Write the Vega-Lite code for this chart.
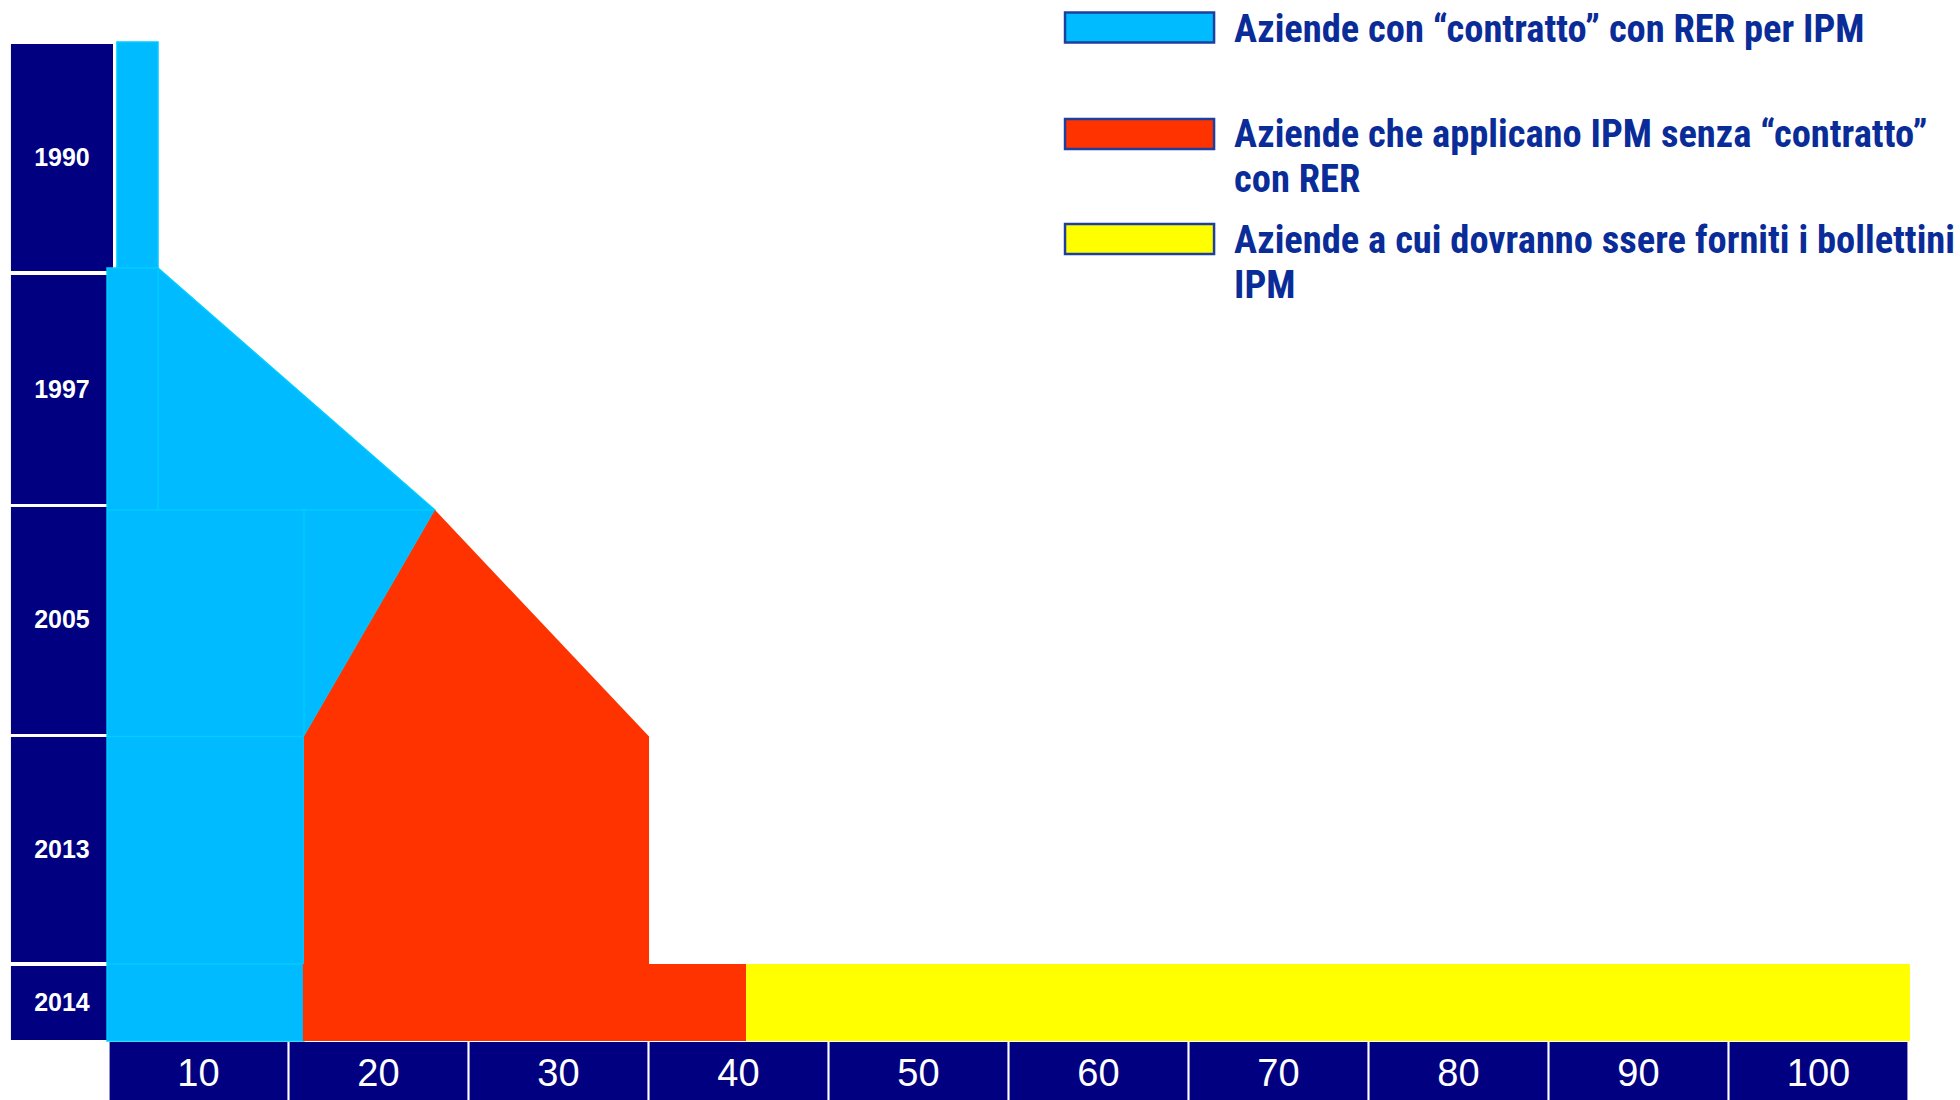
{
  "$schema": "https://vega.github.io/schema/vega-lite/v6.json",
  "width": 1960,
  "height": 1100,
  "autosize": {"type": "fit", "contains": "padding"},
  "padding": 0,
  "background": "white",
  "config": {"view": {"stroke": null}},
  "datasets": {
    "years": [
      {"year": "1990", "pct_from": -5.42, "pct_to": 0.25, "row_from": 0.009, "row_to": 0.996, "row_mid": 0.503},
      {"year": "1997", "pct_from": -5.42, "pct_to": 0.25, "row_from": 1.013, "row_to": 2.009, "row_mid": 1.511},
      {"year": "2005", "pct_from": -5.42, "pct_to": 0.25, "row_from": 2.022, "row_to": 3.009, "row_mid": 2.515},
      {"year": "2013", "pct_from": -5.42, "pct_to": 0.25, "row_from": 3.022, "row_to": 4.0, "row_mid": 3.511},
      {"year": "2014", "pct_from": -5.42, "pct_to": 0.25, "row_from": 4.017, "row_to": 4.339, "row_mid": 4.178}
    ],
    "ticks": [
      {"label": "10", "pct_from": 0.06, "pct_to": 9.94, "pct_mid": 5, "row_from": 4.348, "row_to": 4.6, "row_mid": 4.491},
      {"label": "20", "pct_from": 10.06, "pct_to": 19.94, "pct_mid": 15, "row_from": 4.348, "row_to": 4.6, "row_mid": 4.491},
      {"label": "30", "pct_from": 20.06, "pct_to": 29.94, "pct_mid": 25, "row_from": 4.348, "row_to": 4.6, "row_mid": 4.491},
      {"label": "40", "pct_from": 30.06, "pct_to": 39.94, "pct_mid": 35, "row_from": 4.348, "row_to": 4.6, "row_mid": 4.491},
      {"label": "50", "pct_from": 40.06, "pct_to": 49.94, "pct_mid": 45, "row_from": 4.348, "row_to": 4.6, "row_mid": 4.491},
      {"label": "60", "pct_from": 50.06, "pct_to": 59.94, "pct_mid": 55, "row_from": 4.348, "row_to": 4.6, "row_mid": 4.491},
      {"label": "70", "pct_from": 60.06, "pct_to": 69.94, "pct_mid": 65, "row_from": 4.348, "row_to": 4.6, "row_mid": 4.491},
      {"label": "80", "pct_from": 70.06, "pct_to": 79.94, "pct_mid": 75, "row_from": 4.348, "row_to": 4.6, "row_mid": 4.491},
      {"label": "90", "pct_from": 80.06, "pct_to": 89.94, "pct_mid": 85, "row_from": 4.348, "row_to": 4.6, "row_mid": 4.491},
      {"label": "100", "pct_from": 90.06, "pct_to": 99.94, "pct_mid": 95, "row_from": 4.348, "row_to": 4.6, "row_mid": 4.491}
    ],
    "cyanColumn": [
      {"pct_from": 0.47, "pct_to": 2.75, "row_from": 0.0, "row_to": 0.983}
    ],
    "cyanArea": [
      {"row": 0.983, "pct": 2.75, "pct_base": -0.08},
      {"row": 2.035, "pct": 18.14, "pct_base": -0.08},
      {"row": 3.02, "pct": 10.86, "pct_base": -0.08},
      {"row": 4.343, "pct": 10.86, "pct_base": -0.08}
    ],
    "cyanLines": [
      {"pct1": 2.75, "row1": 0.983, "pct2": 2.75, "row2": 2.035},
      {"pct1": -0.08, "row1": 2.035, "pct2": 18.14, "row2": 2.035},
      {"pct1": 10.86, "row1": 2.035, "pct2": 10.86, "row2": 3.02},
      {"pct1": -0.08, "row1": 3.02, "pct2": 10.86, "row2": 3.02},
      {"pct1": -0.08, "row1": 4.009, "pct2": 10.86, "row2": 4.009}
    ],
    "redArea": [
      {"row": 2.035, "pct_left": 18.14, "pct_right": 18.14},
      {"row": 3.02, "pct_left": 10.86, "pct_right": 30.03},
      {"row": 4.012, "pct_left": 10.86, "pct_right": 30.03}
    ],
    "redBar": [
      {"pct_from": 10.8, "pct_to": 35.42, "row_from": 4.009, "row_to": 4.343}
    ],
    "yellowBar": [
      {"pct_from": 35.42, "pct_to": 100.08, "row_from": 4.009, "row_to": 4.343}
    ],
    "legendBoxes": [
      {"category": "contratto", "pct_from": 53.14, "pct_to": 61.42, "row_from": -0.128, "row_to": 0.002},
      {"category": "senza", "pct_from": 53.14, "pct_to": 61.42, "row_from": 0.335, "row_to": 0.465},
      {"category": "bollettini", "pct_from": 53.14, "pct_to": 61.42, "row_from": 0.791, "row_to": 0.922}
    ],
    "legendText": [
      {"text": "Aziende con “contratto” con RER per IPM", "pct": 62.53, "row": -0.052},
      {"text": "Aziende che applicano IPM senza “contratto”", "pct": 62.53, "row": 0.404},
      {"text": "con RER", "pct": 62.53, "row": 0.6},
      {"text": "Aziende a cui dovranno ssere forniti i bollettini", "pct": 62.53, "row": 0.865},
      {"text": "IPM", "pct": 62.53, "row": 1.061}
    ]
  },
  "layer": [
    {
      "data": {"name": "years"},
      "mark": {"type": "rect", "color": "#000080"},
      "encoding": {
        "x": {"field": "pct_from", "type": "quantitative", "scale": {"domain": [-6.028, 102.861], "nice": false, "zero": false}, "axis": null},
        "x2": {"field": "pct_to"},
        "y": {"field": "row_from", "type": "quantitative", "scale": {"domain": [-0.1826, 4.6], "nice": false, "zero": false, "reverse": true}, "axis": null},
        "y2": {"field": "row_to"}
      }
    },
    {
      "data": {"name": "years"},
      "mark": {"type": "text", "color": "white", "font": "Liberation Sans", "fontWeight": "bold", "fontSize": 25, "align": "center", "baseline": "middle"},
      "encoding": {
        "x": {"field": "pct_from", "type": "quantitative", "scale": {"domain": [-6.028, 102.861], "nice": false, "zero": false}, "axis": null},
        "y": {"field": "row_mid", "type": "quantitative", "scale": {"domain": [-0.1826, 4.6], "nice": false, "zero": false, "reverse": true}, "axis": null},
        "xOffset": {"value": 51},
        "text": {"field": "year"}
      }
    },
    {
      "data": {"name": "ticks"},
      "mark": {"type": "rect", "color": "#000080", "clip": true},
      "encoding": {
        "x": {"field": "pct_from", "type": "quantitative", "scale": {"domain": [-6.028, 102.861], "nice": false, "zero": false}, "axis": null},
        "x2": {"field": "pct_to"},
        "y": {"field": "row_from", "type": "quantitative", "scale": {"domain": [-0.1826, 4.6], "nice": false, "zero": false, "reverse": true}, "axis": null},
        "y2": {"field": "row_to"}
      }
    },
    {
      "data": {"name": "ticks"},
      "mark": {"type": "text", "color": "white", "font": "Liberation Sans Narrow, Liberation Sans", "fontSize": 38, "align": "center", "baseline": "middle"},
      "encoding": {
        "x": {"field": "pct_mid", "type": "quantitative", "scale": {"domain": [-6.028, 102.861], "nice": false, "zero": false}, "axis": null},
        "y": {"field": "row_mid", "type": "quantitative", "scale": {"domain": [-0.1826, 4.6], "nice": false, "zero": false, "reverse": true}, "axis": null},
        "text": {"field": "label"}
      }
    },
    {
      "data": {"name": "cyanColumn"},
      "mark": {"type": "rect", "color": "#00BBFF", "stroke": "#00CCFF", "strokeWidth": 1.5},
      "encoding": {
        "x": {"field": "pct_from", "type": "quantitative", "scale": {"domain": [-6.028, 102.861], "nice": false, "zero": false}, "axis": null},
        "x2": {"field": "pct_to"},
        "y": {"field": "row_from", "type": "quantitative", "scale": {"domain": [-0.1826, 4.6], "nice": false, "zero": false, "reverse": true}, "axis": null},
        "y2": {"field": "row_to"}
      }
    },
    {
      "data": {"name": "cyanArea"},
      "mark": {"type": "area", "orient": "horizontal", "color": "#00BBFF", "stroke": "#00CCFF", "strokeWidth": 1.5},
      "encoding": {
        "y": {"field": "row", "type": "quantitative", "scale": {"domain": [-0.1826, 4.6], "nice": false, "zero": false, "reverse": true}, "axis": null},
        "x": {"field": "pct", "type": "quantitative", "scale": {"domain": [-6.028, 102.861], "nice": false, "zero": false}, "axis": null},
        "x2": {"field": "pct_base"}
      }
    },
    {
      "data": {"name": "cyanLines"},
      "mark": {"type": "rule", "color": "#00CCFF", "strokeWidth": 1.5},
      "encoding": {
        "x": {"field": "pct1", "type": "quantitative", "scale": {"domain": [-6.028, 102.861], "nice": false, "zero": false}, "axis": null},
        "x2": {"field": "pct2"},
        "y": {"field": "row1", "type": "quantitative", "scale": {"domain": [-0.1826, 4.6], "nice": false, "zero": false, "reverse": true}, "axis": null},
        "y2": {"field": "row2"}
      }
    },
    {
      "data": {"name": "redArea"},
      "mark": {"type": "area", "orient": "horizontal", "color": "#FF3300"},
      "encoding": {
        "y": {"field": "row", "type": "quantitative", "scale": {"domain": [-0.1826, 4.6], "nice": false, "zero": false, "reverse": true}, "axis": null},
        "x": {"field": "pct_right", "type": "quantitative", "scale": {"domain": [-6.028, 102.861], "nice": false, "zero": false}, "axis": null},
        "x2": {"field": "pct_left"}
      }
    },
    {
      "data": {"name": "redBar"},
      "mark": {"type": "rect", "color": "#FF3300"},
      "encoding": {
        "x": {"field": "pct_from", "type": "quantitative", "scale": {"domain": [-6.028, 102.861], "nice": false, "zero": false}, "axis": null},
        "x2": {"field": "pct_to"},
        "y": {"field": "row_from", "type": "quantitative", "scale": {"domain": [-0.1826, 4.6], "nice": false, "zero": false, "reverse": true}, "axis": null},
        "y2": {"field": "row_to"}
      }
    },
    {
      "data": {"name": "yellowBar"},
      "mark": {"type": "rect", "color": "#FFFF00"},
      "encoding": {
        "x": {"field": "pct_from", "type": "quantitative", "scale": {"domain": [-6.028, 102.861], "nice": false, "zero": false}, "axis": null},
        "x2": {"field": "pct_to"},
        "y": {"field": "row_from", "type": "quantitative", "scale": {"domain": [-0.1826, 4.6], "nice": false, "zero": false, "reverse": true}, "axis": null},
        "y2": {"field": "row_to"}
      }
    },
    {
      "data": {"name": "legendBoxes"},
      "mark": {"type": "rect", "stroke": "#1F3F9F", "strokeWidth": 2.5},
      "encoding": {
        "x": {"field": "pct_from", "type": "quantitative", "scale": {"domain": [-6.028, 102.861], "nice": false, "zero": false}, "axis": null},
        "x2": {"field": "pct_to"},
        "y": {"field": "row_from", "type": "quantitative", "scale": {"domain": [-0.1826, 4.6], "nice": false, "zero": false, "reverse": true}, "axis": null},
        "y2": {"field": "row_to"},
        "fill": {"field": "category", "type": "nominal", "scale": {"domain": ["contratto", "senza", "bollettini"], "range": ["#00BBFF", "#FF3300", "#FFFF00"]}, "legend": null}
      }
    },
    {
      "data": {"name": "legendText"},
      "mark": {"type": "text", "color": "#0A2C98", "font": "Liberation Sans Narrow, Roboto Condensed, DejaVu Sans Condensed, Liberation Sans", "fontWeight": "bold", "fontSize": 38.5, "align": "left", "baseline": "middle"},
      "encoding": {
        "x": {"field": "pct", "type": "quantitative", "scale": {"domain": [-6.028, 102.861], "nice": false, "zero": false}, "axis": null},
        "y": {"field": "row", "type": "quantitative", "scale": {"domain": [-0.1826, 4.6], "nice": false, "zero": false, "reverse": true}, "axis": null},
        "text": {"field": "text"}
      }
    }
  ]
}
